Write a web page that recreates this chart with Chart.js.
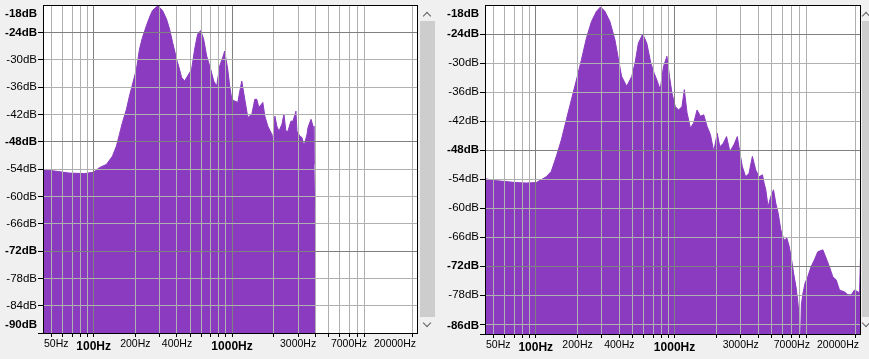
<!DOCTYPE html>
<html><head><meta charset="utf-8">
<script src="https://cdn.jsdelivr.net/npm/chart.js@4.4.1/dist/chart.umd.min.js"></script>
<style>
html,body{margin:0;padding:0;background:#f0f0f0;width:869px;height:359px;overflow:hidden;position:relative}
canvas{position:absolute;top:0}
#c1{left:0}
#c2{left:436px}
.thumb{position:absolute;background:#cdcdcd}
.chev{position:absolute;width:5px;height:5px;border-left:1.5px solid #606060;border-top:1.5px solid #606060}
</style></head><body>
<canvas id="c1" width="420" height="359"></canvas>
<canvas id="c2" width="426" height="359"></canvas>
<div class="thumb" style="left:420px;top:21px;width:15px;height:296px"></div>
<div class="thumb" style="left:862px;top:21px;width:7px;height:296px"></div>
<div class="chev" style="left:424px;top:13px;transform:rotate(45deg)"></div>
<div class="chev" style="left:424px;top:320px;transform:rotate(225deg)"></div>
<div class="chev" style="left:863px;top:13px;transform:rotate(45deg)"></div>
<div class="chev" style="left:863px;top:320px;transform:rotate(225deg)"></div>
<script>
// ---------- data ----------
const freqRange = [43.07, 22050];
const freqGrid = [50,60,70,80,90,100,200,300,400,500,600,700,800,900,1000,2000,3000,4000,5000,6000,7000,8000,9000,20000];
const freqLabels = [50,100,200,400,1000,3000,7000,20000];
const freqMajor = [100,1000];
const freqBold = [100,1000];

const leftDbRange = [-90, -18];
const leftDbTicks = [-18,-24,-30,-36,-42,-48,-54,-60,-66,-72,-78,-84,-90];
const leftDbLabels = [-18,-24,-30,-36,-42,-48,-54,-60,-66,-72,-78,-84,-90];
const leftDbMajor = [-24,-48,-72];
const leftDbBold = [-18,-24,-48,-72,-90];

const rightDbRange = [-86, -18];
const rightDbTicks = [-18,-24,-30,-36,-42,-48,-54,-60,-66,-72,-78,-84,-86];
const rightDbLabels = [-18,-24,-30,-36,-42,-48,-54,-60,-66,-72,-78,-86];
const rightDbMajor = [-24,-48,-72];
const rightDbBold = [-18,-24,-48,-72,-86];

const leftFreqs = [43,53.7,66.7,85.6,100,110,123.6,136.6,146,153.6,161.4,172.6,181.4,190.8,203.9,214.4,225.4,240.9,253.3,266.3,284.7,294.3,314.6,336.3,353.8,371.9,397.6,411.1,432.1,454.3,477.5,510.5,536.6,564.1,593.2,623.6,655.6,701,737,774.6,814.5,856.2,885.3,930.7,962.3,995,1046,1100,1156,1176,1236,1300,1389,1460,1510,1561,1669,1726,1814,1940,1972,2039,2108,2180,2292,2370,2450,2533,2663,2754,2895,2944,3095,3200,3308,3478,3537,3719,3845,3908,3974,4010];
const leftDb = [-54.1,-54.5,-54.9,-55.0,-54.7,-53.7,-53.0,-51.2,-49.0,-46.4,-43.8,-40.9,-38.0,-35.4,-32.1,-27.7,-25.1,-22.5,-20.7,-19.2,-18.4,-18.3,-19.2,-21.1,-23.3,-26.2,-29.9,-31.4,-33.9,-34.7,-33.6,-32.1,-27.7,-24.4,-23.6,-25.5,-29.2,-32.1,-34.7,-35.8,-31.4,-29.5,-28.1,-32.1,-35.8,-38.7,-39.1,-39.4,-35.8,-34.7,-38.7,-42.7,-42.0,-38.7,-38.7,-40.5,-39.4,-42.4,-44.6,-46.4,-47.5,-42.4,-44.6,-45.7,-44.2,-42.0,-45.7,-45.7,-43.5,-43.5,-41.3,-45.7,-46.8,-47.1,-49.0,-46.4,-44.9,-43.1,-44.6,-53.0,-67.5,-67.5];

const rightFreqs = [43,51.6,61,72.1,85.2,100.7,109.4,119,129.3,140.6,152.8,166.1,180.5,196.3,213.3,231.9,252,274,292.8,314.7,342,371.9,392.9,415.7,452.1,491.3,519.1,548.5,590.2,631,674.5,712.7,745.6,787.9,832.5,880.9,920,957.6,1012,1069,1131,1176,1230,1300,1373,1453,1536,1623,1717,1814,1917,2029,2119,2242,2370,2504,2676,2833,2958,3079,3254,3438,3638,3845,4063,4300,4416,4543,4721,4937,5164,5366,5577,5833,6164,6449,6701,6975,7211,7493,7709,7918,8030,8100,8200,8379,8707,9110,9623,10167,10762,11700,12360,13060,13825,14605,15430,16775,17760,18760,19825,20980,21500,21900,22050];
const rightDb = [-53.9,-54.3,-54.5,-54.7,-54.8,-54.7,-54.1,-53.5,-52.4,-49.3,-45.9,-41.7,-37.6,-33.5,-29.3,-24.8,-21.4,-19.3,-18.4,-19.3,-21.4,-25.2,-29.0,-32.8,-34.8,-32.8,-30.0,-25.9,-24.0,-25.9,-30.0,-32.1,-33.5,-35.5,-30.7,-28.6,-32.8,-36.2,-39.0,-39.7,-39.0,-35.5,-40.3,-43.4,-42.4,-39.7,-41.0,-40.7,-43.1,-44.8,-48.3,-44.5,-47.3,-46.6,-45.2,-48.3,-46.9,-45.2,-48.6,-51.4,-53.5,-52.8,-49.3,-52.1,-53.5,-53.1,-54.8,-56.2,-59.7,-57.6,-56.2,-59.0,-61.0,-64.5,-66.6,-66.2,-67.9,-70.7,-73.5,-76.2,-79.0,-82.4,-92,-86,-80,-77.9,-75.5,-74.2,-72.1,-70.7,-69.0,-68.6,-70.3,-72.1,-74.2,-74.8,-76.9,-77.3,-77.9,-77.9,-76.9,-77.3,-77.5,-69.7,-69.7];

// ---------- styles ----------
const PURPLE = 'rgb(138,59,191)';
const GRID_LIGHT = '#b0b0b0';
const GRID_DARK = '#808080';
const FAMILY = "'Liberation Sans', Arial, sans-serif";

function wrapLabels(scale, kind) {
  if (scale.__wrapped) return;
  const orig = scale._computeLabelItems;
  if (typeof orig !== 'function') return;
  scale.__wrapped = true;
  scale._computeLabelItems = function (ca) {
    const items = orig.call(this, ca);
    const ctx = this.ctx;
    for (const it of items) {
      if (!it.label) continue;
      ctx.save(); ctx.font = it.font.string;
      const w = ctx.measureText(String(it.label)).width;
      ctx.restore();
      const t = it.options.translation;
      if (kind === 'x') {
        const x = Math.max(this.left + w / 2 + 1, Math.min(this.right - w / 2 - 2, t[0]));
        const bold = it.font.weight === 'bold';
        it.options.translation = [x, this.top + (bold ? 13.2 : 11)];
        it.options.textBaseline = 'middle';
        it.textOffset = 0;
      } else {
        const y = Math.max(this.top + 9, Math.min(this.bottom - 8, t[1]));
        it.options.translation = [t[0], y];
      }
    }
    return items;
  };
}

const framePlugin = {
  id: 'frame',
  beforeDraw(chart) {
    const a = chart.chartArea, c = chart.ctx;
    c.save(); c.fillStyle = '#ffffff';
    c.fillRect(a.left, a.top, a.right - a.left, a.bottom - a.top);
    c.restore();
  },
  afterDraw(chart) {
    const a = chart.chartArea, c = chart.ctx;
    c.save(); c.strokeStyle = '#000'; c.lineWidth = 1;
    c.strokeRect(a.left + 0.5, a.top + 0.5, a.right - a.left - 1, a.bottom - a.top);
    c.restore();
  }
};

function makeChart(id, freqs, dbs, dbRange, dbTicks, dbLabels, dbMajor, dbBold, yWidth, xHeight, padRight) {
  const points = freqs.map((f, i) => ({ x: f, y: dbs[i] }));
  return new Chart(document.getElementById(id), {
    type: 'line',
    data: { datasets: [{
      data: points, borderColor: PURPLE, backgroundColor: PURPLE, borderWidth: 1,
      pointRadius: 0, tension: 0, fill: 'start'
    }]},
    options: {
      responsive: false, animation: false, devicePixelRatio: 1,
      layout: { padding: { left: 0, right: padRight, top: 5, bottom: 0 } },
      plugins: { legend: { display: false }, tooltip: { enabled: false } },
      scales: {
        x: {
          type: 'logarithmic', min: freqRange[0], max: freqRange[1],
          afterBuildTicks: s => { s.ticks = freqGrid.map(v => ({ value: v })); },
          afterFit: s => { s.height = xHeight; s.paddingLeft = 0; s.paddingRight = 0; wrapLabels(s, 'x'); },
          ticks: {
            autoSkip: false, maxRotation: 0, minRotation: 0, color: '#000', padding: 2, z: 2,
            callback: v => freqLabels.includes(v) ? v + 'Hz' : '',
            font: ctx => freqBold.includes(ctx.tick && ctx.tick.value)
              ? { family: FAMILY, size: 12, weight: 'bold' }
              : { family: FAMILY, size: 10.5, weight: 'normal' }
          },
          grid: {
            z: 1,
            color: ctx => freqMajor.includes(ctx.tick && ctx.tick.value) ? GRID_DARK : GRID_LIGHT,
            tickColor: '#000', tickLength: 4, lineWidth: 1
          },
          border: { display: false }
        },
        y: {
          type: 'linear', min: dbRange[0], max: dbRange[1],
          afterBuildTicks: s => { s.ticks = dbTicks.map(v => ({ value: v })); },
          afterFit: s => { s.width = yWidth; s.paddingTop = 0; s.paddingBottom = 0; wrapLabels(s, 'y'); },
          ticks: {
            autoSkip: false, color: '#000', padding: 1, z: 2,
            callback: v => dbLabels.includes(v) ? v + 'dB' : '',
            font: ctx => ({ family: FAMILY, size: 11.5, weight: dbBold.includes(ctx.tick && ctx.tick.value) ? 'bold' : 'normal' })
          },
          grid: {
            z: 1,
            color: ctx => dbMajor.includes(ctx.tick && ctx.tick.value) ? GRID_DARK : GRID_LIGHT,
            tickColor: ctx => (ctx.tick && ctx.tick.value === dbRange[1]) ? 'rgba(0,0,0,0)' : '#000',
            tickLength: 5, lineWidth: 1
          },
          border: { display: false }
        }
      }
    },
    plugins: [framePlugin]
  });
}

makeChart('c1', leftFreqs, leftDb, leftDbRange, leftDbTicks, leftDbLabels, leftDbMajor, leftDbBold, 43, 26, 2);
makeChart('c2', rightFreqs, rightDb, rightDbRange, rightDbTicks, rightDbLabels, rightDbMajor, rightDbBold, 49, 25, 1);
</script>
</body></html>
